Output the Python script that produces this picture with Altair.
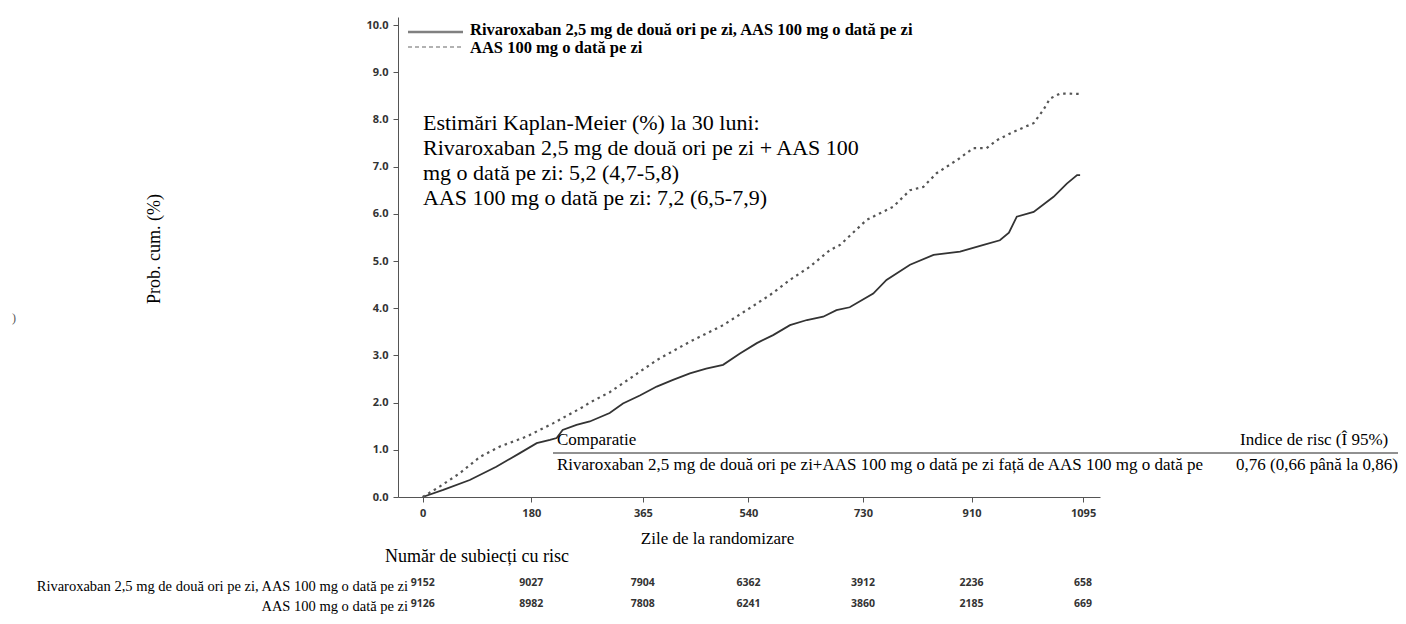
import altair as alt
import pandas as pd

# ---------------- data ----------------
riva_days = [0, 34, 78, 122, 161, 189, 211, 222, 232, 255, 277, 310, 332, 360, 388, 415, 443, 470,
             498, 526, 554, 581, 609, 637, 664, 686, 708, 747, 769, 808, 847, 891, 930, 957, 972,
             985, 1013, 1046, 1068, 1085, 1090]
riva_vals = [0.0, 0.15, 0.36, 0.64, 0.93, 1.14, 1.21, 1.25, 1.42, 1.53, 1.60, 1.78, 1.98, 2.15, 2.34,
             2.48, 2.62, 2.72, 2.80, 3.04, 3.26, 3.43, 3.64, 3.75, 3.82, 3.96, 4.02, 4.31, 4.60, 4.92,
             5.13, 5.20, 5.34, 5.44, 5.60, 5.94, 6.04, 6.36, 6.64, 6.82, 6.82]

aas_days = [0, 28, 61, 95, 128, 172, 216, 266, 277, 310, 332, 388, 443, 498, 542, 576, 609, 642,
            675, 692, 736, 780, 808, 830, 852, 886, 913, 935, 952, 980, 1013, 1029, 1040, 1057, 1090]
aas_vals = [0.0, 0.22, 0.50, 0.85, 1.07, 1.28, 1.56, 1.91, 2.00, 2.22, 2.41, 2.90, 3.29, 3.64, 4.00,
            4.28, 4.60, 4.88, 5.23, 5.34, 5.87, 6.15, 6.50, 6.57, 6.86, 7.14, 7.39, 7.39, 7.56, 7.74,
            7.92, 8.20, 8.44, 8.55, 8.54]

x_ticks = [0, 180, 365, 540, 730, 910, 1095]
y_ticks = [0, 1, 2, 3, 4, 5, 6, 7, 8, 9, 10]
riva_risk = [9152, 9027, 7904, 6362, 3912, 2236, 658]
aas_risk = [9126, 8982, 7808, 6241, 3860, 2185, 669]

legend_labels = ["Rivaroxaban 2,5 mg de două ori pe zi, AAS 100 mg o dată pe zi",
                 "AAS 100 mg o dată pe zi"]
km_lines = ["Estimări Kaplan-Meier (%) la 30 luni:",
            "Rivaroxaban 2,5 mg de două ori pe zi + AAS 100",
            "mg o dată pe zi: 5,2 (4,7-5,8)",
            "AAS 100 mg o dată pe zi: 7,2 (6,5-7,9)"]
cmp_header = ["Comparatie", "Indice de risc (Î 95%)"]
cmp_row = ["Rivaroxaban 2,5 mg de două ori pe zi+AAS 100 mg o dată pe zi față de AAS 100 mg o dată pe",
           "0,76 (0,66 până la 0,86)"]
x_title = "Zile de la randomizare"
y_title = "Prob. cum. (%)"
risk_title = "Număr de subiecți cu risc"
risk_rows = ["Rivaroxaban 2,5 mg de două ori pe zi, AAS 100 mg o dată pe zi", "AAS 100 mg o dată pe zi"]

SERIF = "Liberation Serif"
SANS = "Open Sans"

df_riva = pd.DataFrame({"day": riva_days, "value": riva_vals})
df_aas = pd.DataFrame({"day": aas_days, "value": aas_vals})
df_risk = pd.DataFrame({"day": x_ticks, "riva": riva_risk, "aas": aas_risk})
dummy = pd.DataFrame({"a": [0]})

xscale = alt.Scale(domain=[-41, 1123], nice=False, zero=False)
yscale = alt.Scale(domain=[0, 10.17], nice=False)

X = alt.X("day:Q", scale=xscale,
          axis=alt.Axis(values=x_ticks, format="d", title=x_title, titleFont=SERIF, titleFontSize=17,
                        titleFontWeight="normal", titleColor="black", titleX=319, titleY=41,
                        titleBaseline="middle", titleAnchor="middle", titleAlign="center"))
Y = alt.Y("value:Q", scale=yscale,
          axis=alt.Axis(values=y_ticks, format=".1f", title=None))

line_riva = alt.Chart(df_riva).mark_line(color="#333333", strokeWidth=1.8).encode(x=X, y=Y)
line_aas = alt.Chart(df_aas).mark_line(color="#555555", strokeWidth=2.2,
                                        strokeDash=[2.5, 4]).encode(x=X, y=Y)


def txt(text, x, y, size, font=SERIF, weight="normal", align="left", angle=0, color="black"):
    m = alt.Chart(dummy).mark_text(text=text, font=font, fontSize=size, fontWeight=weight,
                                   align=align, baseline="middle", angle=angle, color=color)
    return m.encode(x=alt.value(x), y=alt.value(y))


def rule(x1, x2, y, color, width, dash=None):
    kw = dict(color=color, strokeWidth=width)
    if dash:
        kw["strokeDash"] = dash
    return alt.Chart(dummy).mark_rule(**kw).encode(x=alt.value(x1), x2=alt.value(x2), y=alt.value(y))


layers = [line_riva, line_aas]

# legend
layers.append(rule(10, 65, 15, "#808080", 2.5))
layers.append(rule(10, 65, 30, "#666666", 1.2, [4, 3]))
layers.append(txt(legend_labels[0], 72, 13, 16.5, weight="bold"))
layers.append(txt(legend_labels[1], 72, 30.5, 16.5, weight="bold"))

# KM annotation
for i, line in enumerate(km_lines):
    layers.append(txt(line, 25, 106 + i * 25, 22))

# comparison table
layers.append(txt(cmp_header[0], 159, 423, 17))
layers.append(txt(cmp_header[1], 842, 423, 17))
layers.append(rule(155, 1008, 436, "#222222", 1))
layers.append(txt(cmp_row[0], 159, 448, 17))
layers.append(txt(cmp_row[1], 838, 448, 17))

# y title and stray mark
layers.append(txt(y_title, -243, 232, 18, angle=270, align="center"))
layers.append(txt(")", -386, 301, 12, color="#555555"))

# number at risk
layers.append(txt(risk_title, -13, 540, 18))
layers.append(txt(risk_rows[0], 10, 570, 14.5, align="right"))
layers.append(txt(risk_rows[1], 10, 590, 14.5, align="right"))
layers.append(alt.Chart(df_risk).mark_text(font=SANS, fontSize=10.5, fontWeight="bold", color="#333333")
              .encode(x=X, y=alt.value(566), text="riva:Q"))
layers.append(alt.Chart(df_risk).mark_text(font=SANS, fontSize=10.5, fontWeight="bold", color="#333333")
              .encode(x=X, y=alt.value(587), text="aas:Q"))

chart = alt.layer(*layers).properties(
    width=702, height=480,
    autosize=alt.AutoSizeParams(type="none"),
    padding={"left": 390, "top": 9, "right": 298, "bottom": 118},
).configure_view(stroke=None).configure_axis(
    grid=False, domainColor="#555555", tickColor="#555555", tickSize=5,
    labelFont=SANS, labelFontSize=11, labelFontWeight="bold", labelColor="#333333",
    labelPadding=5,
)

chart.save("out.html", embed_options={"renderer": "svg", "actions": False})
